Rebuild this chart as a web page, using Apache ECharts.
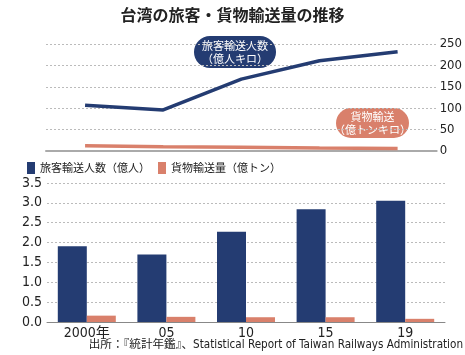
<!DOCTYPE html>
<html><head><meta charset="utf-8">
<script src="https://cdn.jsdelivr.net/npm/echarts@6/dist/echarts.min.js"></script>
<style>html,body{margin:0;padding:0;background:#fff}#c{width:465px;height:355px}</style>
</head><body><div id="c"></div>
<script>
var categories = ['2000年', '05', '10', '15', '19'];
var passengerKm = [107, 96, 168, 211, 232];
var freightTonKm = [12, 10, 9, 7, 6];
var passengers = [1.91, 1.70, 2.27, 2.84, 3.05];
var freightTons = [0.16, 0.13, 0.12, 0.12, 0.08];
var topTicks = [0, 50, 100, 150, 200, 250];
var bottomTicks = [0, 0.5, 1.0, 1.5, 2.0, 2.5, 3.0, 3.5];

var NAVY = '#243c72', SALMON = '#d9806b';
var NARROW = '"DejaVu Sans Condensed", "Liberation Sans Narrow", sans-serif';
var JP = '"Noto Sans CJK JP", sans-serif';

var chart = echarts.init(document.getElementById('c'), null, {renderer: 'canvas'});
chart.setOption({
  animation: false,
  title: {
    text: '台湾の旅客・貨物輸送量の推移', left: 'center', top: 2,
    textStyle: {fontFamily: JP, fontSize: 16, fontWeight: 'bold', color: '#222'}
  },
  legend: {
    left: 22, top: 157, itemWidth: 8, itemHeight: 12, itemGap: 8, icon: 'rect',
    textStyle: {fontFamily: JP, fontSize: 11, color: '#222'},
    data: ['旅客輸送人数（億人）', '貨物輸送量（億トン）']
  },
  grid: [
    {left: 46, right: 20, top: 44, height: 107},
    {left: 47, right: 20, top: 183, height: 139}
  ],
  xAxis: [
    {gridIndex: 0, type: 'category', data: categories, boundaryGap: true,
     axisLine: {lineStyle: {color: '#aaa', width: 2}}, axisTick: {show: false}, axisLabel: {show: false}},
    {gridIndex: 1, type: 'category', data: categories,
     axisLine: {lineStyle: {color: '#888', width: 1}}, axisTick: {show: false},
     axisLabel: {fontFamily: NARROW + ',' + JP, fontSize: 14, color: '#222', margin: 4}}
  ],
  yAxis: [
    {gridIndex: 0, type: 'value', position: 'right', min: topTicks[0], max: topTicks[topTicks.length - 1], interval: 50,
     axisLine: {show: false}, axisTick: {show: false},
     axisLabel: {fontFamily: NARROW, fontSize: 13, color: '#222', margin: 3},
     splitLine: {lineStyle: {color: '#bbb', type: [2, 2]}}},
    {gridIndex: 1, type: 'value', min: bottomTicks[0], max: bottomTicks[bottomTicks.length - 1], interval: 0.5,
     axisLine: {show: false}, axisTick: {show: false},
     axisLabel: {fontFamily: NARROW, fontSize: 14, color: '#222', margin: 5,
       formatter: function (v) { return v.toFixed(1); }},
     splitLine: {lineStyle: {color: '#bbb', type: [2, 2]}}}
  ],
  series: [
    {type: 'line', xAxisIndex: 0, yAxisIndex: 0, data: passengerKm, symbol: 'none',
     lineStyle: {color: NAVY, width: 3.5}, z: 3},
    {type: 'line', xAxisIndex: 0, yAxisIndex: 0, data: freightTonKm, symbol: 'none',
     lineStyle: {color: SALMON, width: 3.5}, z: 3},
    {name: '旅客輸送人数（億人）', type: 'bar', xAxisIndex: 1, yAxisIndex: 1, data: passengers,
     barWidth: 29, barGap: '0%', itemStyle: {color: NAVY}},
    {name: '貨物輸送量（億トン）', type: 'bar', xAxisIndex: 1, yAxisIndex: 1, data: freightTons,
     barWidth: 29, barGap: '0%', itemStyle: {color: SALMON}}
  ],
  graphic: [
    {type: 'group', left: 194, top: 36, children: [
      {type: 'rect', shape: {x: 0, y: 0, width: 82, height: 32, r: 16}, style: {fill: NAVY}},
      {type: 'text', x: 41, y: 16, style: {text: '旅客輸送人数\n（億人キロ）', fill: '#fff',
        font: '11px ' + JP, align: 'center', verticalAlign: 'middle', lineHeight: 13}}
    ]},
    {type: 'group', left: 334, top: 108, children: [
      {type: 'rect', shape: {x: 0, y: 0, width: 73, height: 30, r: 15}, style: {fill: SALMON}},
      {type: 'text', x: 36.5, y: 15, style: {text: '貨物輸送\n（億トンキロ）', fill: '#fff',
        font: '11px ' + JP, align: 'center', verticalAlign: 'middle', lineHeight: 13}}
    ]},
    {type: 'text', right: 2, top: 339, style: {text: '出所：『統計年鑑』、Statistical Report of Taiwan Railways Administration',
      fill: '#222', font: '11.6px ' + NARROW + ',' + JP}}
  ]
});
</script></body></html>
